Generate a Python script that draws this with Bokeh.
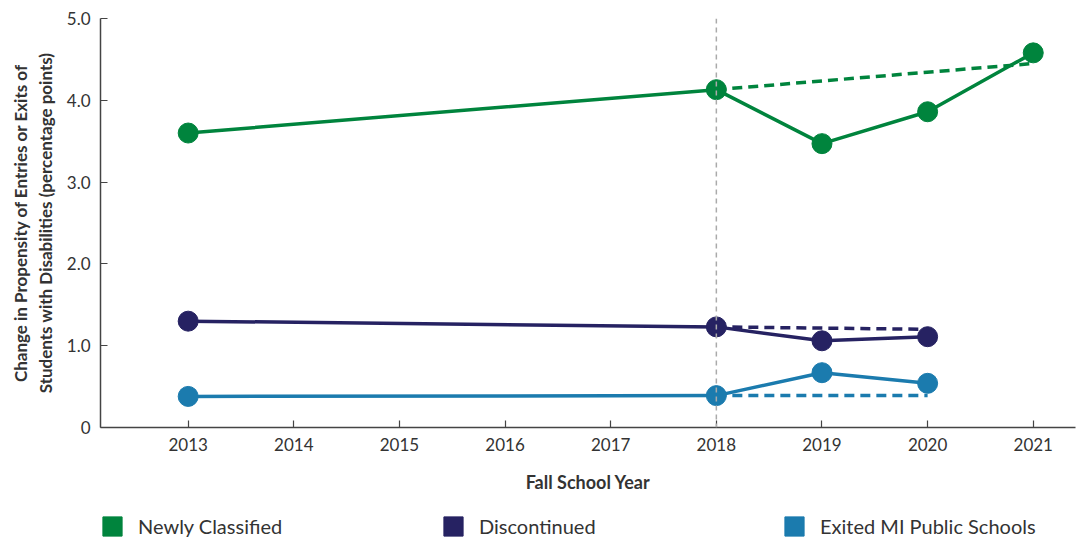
from bokeh.plotting import figure
from bokeh.models import Range1d, Span, Legend, LegendItem, FixedTicker
from bokeh.layouts import column
from bokeh.embed import file_html
from bokeh.resources import INLINE

years = [2013, 2018, 2019, 2020, 2021]
newly = [3.60, 4.13, 3.47, 3.86, 4.58]
disc_years = [2013, 2018, 2019, 2020]
discontinued = [1.30, 1.23, 1.06, 1.11]
exited = [0.38, 0.39, 0.67, 0.54]

newly_proj_years = [2018, 2021]
newly_proj = [4.13, 4.45]
disc_proj_years = [2018, 2020]
disc_proj = [1.23, 1.20]
exited_proj_years = [2018, 2020]
exited_proj = [0.39, 0.39]

series_names = ["Newly Classified", "Discontinued", "Exited MI Public Schools"]

x_ticks = [2013, 2014, 2015, 2016, 2017, 2018, 2019, 2020, 2021]
y_ticks = [0, 1, 2, 3, 4, 5]
y_tick_labels = {0: "0", 1: "1.0", 2: "2.0", 3: "3.0", 4: "4.0", 5: "5.0"}

GREEN = "#00843D"
NAVY = "#262262"
BLUE = "#1B7BAE"
COLORS = [GREEN, NAVY, BLUE]
TXT = "#333333"
FONT = "Lato"

p = figure(width=1078, height=500, output_backend="svg", toolbar_location=None,
           x_range=Range1d(2012.17, 2021.4), y_range=Range1d(0, 5.0),
           min_border_left=100, min_border_right=3, min_border_top=18, min_border_bottom=73)
p.outline_line_color = None
p.grid.visible = False

p.xaxis.ticker = FixedTicker(ticks=x_ticks)
p.yaxis.ticker = FixedTicker(ticks=y_ticks)
p.yaxis.major_label_overrides = y_tick_labels
for ax in [p.xaxis[0], p.yaxis[0]]:
    ax.axis_line_color = "#444444"
    ax.axis_line_width = 1.5
    ax.major_tick_line_color = "#444444"
    ax.major_tick_line_width = 1.2
    ax.major_tick_in = 7
    ax.major_tick_out = 0
    ax.minor_tick_line_color = None
    ax.major_label_text_font = FONT
    ax.major_label_text_font_size = "17px"
    ax.major_label_text_color = TXT
    ax.axis_label_text_font = FONT
    ax.axis_label_text_font_style = "bold"
    ax.axis_label_text_color = TXT
p.xaxis.major_label_standoff = 10
p.yaxis.major_label_standoff = 10
p.xaxis.axis_label = "Fall School Year"
p.xaxis.axis_label_text_font_size = "18px"
p.xaxis.axis_label_standoff = 17
p.yaxis.axis_label = "Change in Propensity of Entries or Exits of\nStudents with Disabilities (percentage points)"
p.yaxis.axis_label_text_font_size = "17px"
p.yaxis.axis_label_standoff = 8

p.add_layout(Span(location=2018, dimension="height", line_color="#aaaaaa",
                  line_width=1.5, line_dash="5 4"))

p.line(newly_proj_years, newly_proj, color=GREEN, line_width=3.5, line_dash="10 6")
p.line(disc_proj_years, disc_proj, color=NAVY, line_width=3.5, line_dash="10 6")
p.line(exited_proj_years, exited_proj, color=BLUE, line_width=3.5, line_dash="10 6")

p.line(years, newly, color=GREEN, line_width=3.5)
p.scatter(years, newly, size=20, color=GREEN)
p.line(disc_years, discontinued, color=NAVY, line_width=3.5)
p.scatter(disc_years, discontinued, size=20, color=NAVY)
p.line(disc_years, exited, color=BLUE, line_width=3.5)
p.scatter(disc_years, exited, size=20, color=BLUE)

# legend figure
lf = figure(width=1078, height=40, output_backend="svg", toolbar_location=None,
            x_range=Range1d(0, 1), y_range=Range1d(0, 1),
            min_border_left=0, min_border_right=0, min_border_top=0, min_border_bottom=0)
lf.axis.visible = False
lf.grid.visible = False
lf.outline_line_color = None
items = []
for name, col in zip(series_names, COLORS):
    r = lf.rect(x=[0.5], y=[-5], width=0.1, height=0.1, color=col)
    items.append(LegendItem(label=name, renderers=[r]))

legend = Legend(items=items, orientation="horizontal", location=(0, 2),
                glyph_width=24, glyph_height=24, label_standoff=14,
                label_width=290, spacing=13, padding=0, margin=0,
                border_line_color=None, background_fill_alpha=0,
                label_text_font=FONT, label_text_font_size="20px",
                label_text_color=TXT)
lf.add_layout(legend, "center")

layout = column(p, lf, spacing=0)
open("out.html", "w").write(file_html(layout, INLINE))
